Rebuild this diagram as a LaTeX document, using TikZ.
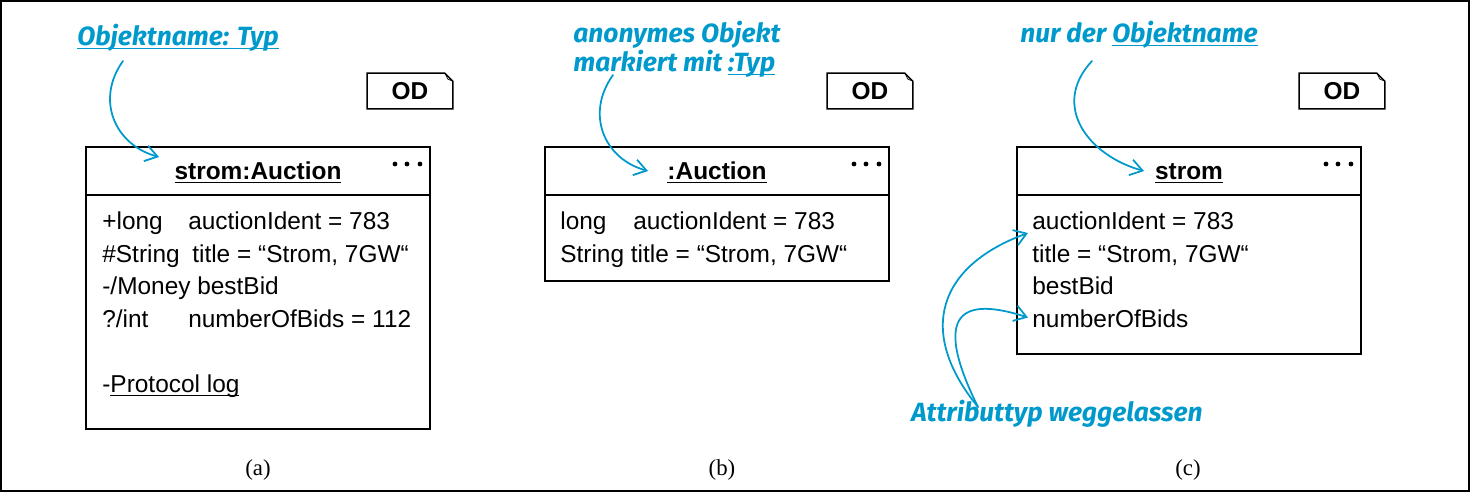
\documentclass[tikz,border=0pt]{standalone}
\usepackage{fontspec}
\setmainfont{Liberation Sans}
\newfontfamily\notefont{Fira Sans}
\newfontfamily\capfont{Liberation Serif}
\usetikzlibrary{arrows.meta}
\usetikzlibrary{calc}
\usetikzlibrary{positioning}
\definecolor{noteblue}{RGB}{0,153,204}
\newcommand{\undl}[1]{\underline{\smash{#1}}}

\begin{document}
\begin{tikzpicture}[x=0.02cm,y=-0.02cm]
\tikzstyle{uml} = [font=\fontsize{13.9}{16}\selectfont]
\tikzstyle{head} = [uml, draw, line width=1pt, minimum width=6.88cm, minimum height=0.96cm,
  inner sep=0pt, outer sep=0pt, text height=0.35cm, text depth=0pt,
  font=\fontsize{13.9}{16}\selectfont\bfseries]
\tikzstyle{body} = [draw, line width=1pt, minimum width=6.88cm, inner sep=0pt, outer sep=0pt]
\tikzstyle{attr} = [uml, anchor=base west, inner sep=0pt]
\tikzstyle{odnote} = [minimum width=1.7cm, minimum height=0.7cm, inner sep=0pt,
  font=\fontsize{13.9}{16}\selectfont\bfseries]
\tikzstyle{note} = [anchor=base west, inner sep=0pt, text=noteblue,
  font=\notefont\fontsize{15}{18}\selectfont\bfseries\itshape]
\tikzstyle{notearrow} = [draw=noteblue, line width=1pt, line cap=round,
  -{Straight Barb[length=2.4mm,width=3.2mm]}]
\tikzstyle{captext} = [font=\capfont\fontsize{13}{15}\selectfont]

\useasboundingbox (0,0) rectangle (1470,493);
\draw[line width=1.1pt] (1,1) rectangle (1469,491);

% (a) strom:Auction
\node[head] (ha) at (258,171) {\undl{strom:Auction}};
\node[body, minimum height=4.68cm, below=0pt of ha] (ba) {};
\draw(102,230)   node[attr] (a1) {\makebox[1.72cm][l]{+long}auctionIdent = 783};
\draw(102,262.5) node[attr] (a2) {\makebox[1.80cm][l]{\#String}title = “Strom, 7GW“};
\draw(102,295)   node[attr] (a3) {-/Money bestBid};
\draw(102,327.5) node[attr] (a4) {\makebox[1.72cm][l]{?/int}numberOfBids = 112};
\draw(102,392.5) node[attr] (a5) {-\undl{Protocol log}};

% (b) :Auction
\node[head] (hb) at (717,171) {\undl{:Auction}};
\node[body, minimum height=1.72cm, below=0pt of hb] (bb) {};
\draw(560,230)   node[attr] (b1) {\makebox[1.46cm][l]{long}auctionIdent = 783};
\draw(560,262.5) node[attr] (b2) {String title = “Strom, 7GW“};

% (c) strom
\node[head] (hc) at (1189,171) {\undl{strom}};
\node[body, minimum height=3.18cm, below=0pt of hc] (bc) {};
\draw(1032,230)   node[attr] (c1) {auctionIdent = 783};
\draw(1032,262.5) node[attr] (c2) {title = “Strom, 7GW“};
\draw(1032,295)   node[attr] (c3) {bestBid};
\draw(1032,327.5) node[attr] (c4) {numberOfBids};

% dots and OD notes
\foreach \h in {ha,hb,hc}
  \foreach \dx in {10,23,35}
    \fill ($(\h.north east)+(-\dx,17)$) circle (2.4);
\foreach \n/\x in {oda/410,odb/870,odc/1342}{
  \node[odnote] (\n) at (\x,91) {OD};
  \draw[line width=0.8pt] (\n.north west) -- ($(\n.north east)+(-8,0)$)
    -- ($(\n.north east)+(0,8)$) -- (\n.south east) -- (\n.south west) -- cycle;
  \draw[line width=0.4pt] ($(\n.north east)+(-8,0)$) -- ($(\n.north east)+(-5,6)$)
    -- ($(\n.north east)+(0,8)$);
}

% notes
\node[note] (na) at (77,46) {\undl{Objektname: Typ}};
\node[note] (nb1) at (573,43) {anonymes Objekt};
\node[note] (nb2) at (573,72) {markiert mit \undl{:Typ}};
\node[note] (nc) at (1020,43) {nur der \undl{Objektname}};
\node[note] (nt) at (911,421) {Attributtyp weggelassen};

\draw[notearrow] ($(na.base west)+(46,15)$) .. controls +(-28,39) and +(-44,-12) .. ($(ha.north west)+(73,10)$);
\draw[notearrow] ($(nb2.base west)+(40,3)$) .. controls +(-28,39) and +(-44,-12) .. ($(hb.north west)+(103,24)$);
\draw[notearrow] ($(nc.base west)+(72,18)$) .. controls +(-42,45) and +(-55,-15) .. ($(hc.north west)+(127,24)$);
\draw[notearrow] ($(nt.base west)+(67,-14)$) .. controls +(-63,-77) and +(-88,32) .. ($(c1.base west)+(-4,3)$);
\draw[notearrow] ($(nt.base west)+(67,-14)$) .. controls +(-53,-107) and +(-53,-17) .. ($(c4.base west)+(-4,-10)$);

% captions
\node[captext] (capa) at (258,470) {(a)};
\node[captext] (capb) at (722,470) {(b)};
\node[captext] (capc) at (1188,470) {(c)};
\end{tikzpicture}
\end{document}
